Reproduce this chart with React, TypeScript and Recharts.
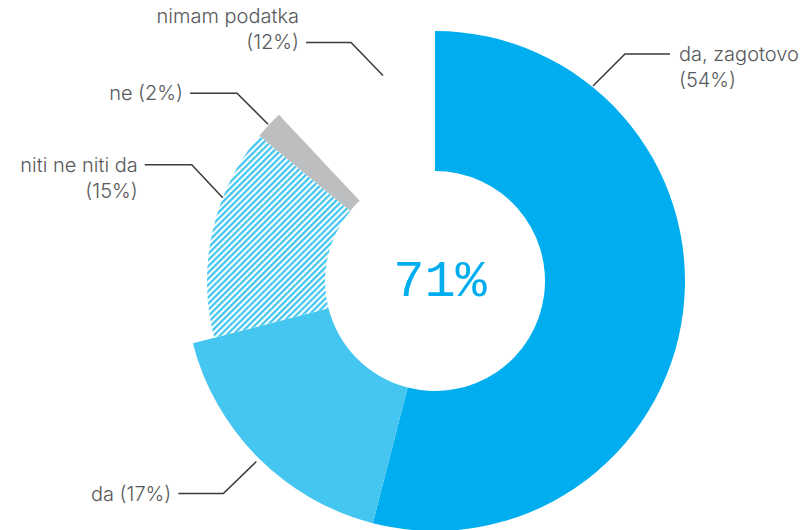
import { PieChart, Pie, Cell } from 'recharts'

const categories = ['da, zagotovo', 'da', 'niti ne niti da', 'ne', 'nimam podatka']
const shares = [54, 17, 15, 2, 12]
const centerValue = '71%'

const data = categories.map((name, i) => ({ name, value: shares[i] }))

const BLUE = '#00aeef'
const LIGHT = '#45c6f0'
const GREY = '#bdbec0'
const TEXT = '#58595b'
const LINE = '#3a3a3a'

// which ring each slice sits on: big outer ring, small outer ring, or not drawn
const bigFills = [BLUE, LIGHT, 'none', 'none', 'none']
const smallFills = ['none', 'none', 'url(#hatch)', GREY, 'none']

// leader line layout per label (angle clockwise from 12 o'clock)
const labelLayout = [
  { angle: 39, r: 251, ex: 32, ey: -32, len: 45, lines: ['da, zagotovo', '(54%)'], lineRow: 0 },
  { angle: 224.7, r: 254, ex: -33, ey: 32, len: 45, lines: ['da (17%)'], lineRow: 0 },
  { angle: 291.4, r: 228, ex: -31, ey: -33, len: 47, lines: ['niti ne niti da', '(15%)'], lineRow: 0 },
  { angle: 313.2, r: 229, ex: -31, ey: -31, len: 47, lines: ['ne (2%)'], lineRow: 0 },
  { angle: 345.8, r: 212, ex: -32, ey: -33, len: 45, lines: ['nimam podatka', '(12%)'], lineRow: 1 },
]

const renderLabel = (props: any) => {
  const { cx, cy, index } = props
  const l = labelLayout[index]
  if (!l) return null
  const rad = (l.angle * Math.PI) / 180
  const x0 = cx + l.r * Math.sin(rad)
  const y0 = cy - l.r * Math.cos(rad)
  const x1 = x0 + l.ex
  const y1 = y0 + l.ey
  const right = l.ex > 0
  const x2 = right ? x1 + l.len : x1 - l.len
  const tx = right ? x2 + 9 : x2 - 7
  const lh = 26
  const firstBase = y1 + 7 - l.lineRow * lh
  return (
    <g key={`lbl-${index}`}>
      <polyline
        points={`${x0},${y0} ${x1},${y1} ${x2},${y1}`}
        fill="none"
        stroke={LINE}
        strokeWidth={1.5}
      />
      <text
        x={tx}
        y={firstBase}
        textAnchor={right ? 'start' : 'end'}
        fill={TEXT}
        fontFamily="Inter, sans-serif"
        fontWeight={300}
        fontSize={20}
      >
        {l.lines.map((t, j) => (
          <tspan key={j} x={tx} y={firstBase + j * lh}>
            {t}
          </tspan>
        ))}
      </text>
    </g>
  )
}

export default function App() {
  return (
    <div style={{ position: 'absolute', left: 0, top: 0, background: '#fff' }}>
      <PieChart width={810} height={530} margin={{ top: 0, right: 0, bottom: 0, left: 0 }}>
        <defs>
          <pattern
            id="hatch"
            patternUnits="userSpaceOnUse"
            width={4.4}
            height={4.4}
            patternTransform="rotate(45)"
          >
            <rect x={0} y={0} width={4.4} height={4.4} fill="#ffffff" />
            <rect x={0} y={0} width={2.3} height={4.4} fill={LIGHT} />
          </pattern>
        </defs>
        <Pie
          data={data}
          dataKey="value"
          cx={435}
          cy={281}
          innerRadius={110}
          outerRadius={250}
          startAngle={90}
          endAngle={-270}
          stroke="none"
          label={renderLabel}
          labelLine={false}
          isAnimationActive={false}
        >
          {data.map((_, i) => (
            <Cell key={i} fill={bigFills[i]} stroke="none" />
          ))}
        </Pie>
        <Pie
          data={data}
          dataKey="value"
          cx={435}
          cy={281}
          innerRadius={110}
          outerRadius={228}
          startAngle={90}
          endAngle={-270}
          stroke="none"
          isAnimationActive={false}
        >
          {data.map((_, i) => (
            <Cell key={i} fill={smallFills[i]} stroke="none" />
          ))}
        </Pie>
        <text
          x={440}
          y={296}
          textAnchor="middle"
          fill={BLUE}
          fontFamily="'Liberation Mono', monospace"
          fontSize={52}
        >
          {centerValue}
        </text>
      </PieChart>
    </div>
  )
}
